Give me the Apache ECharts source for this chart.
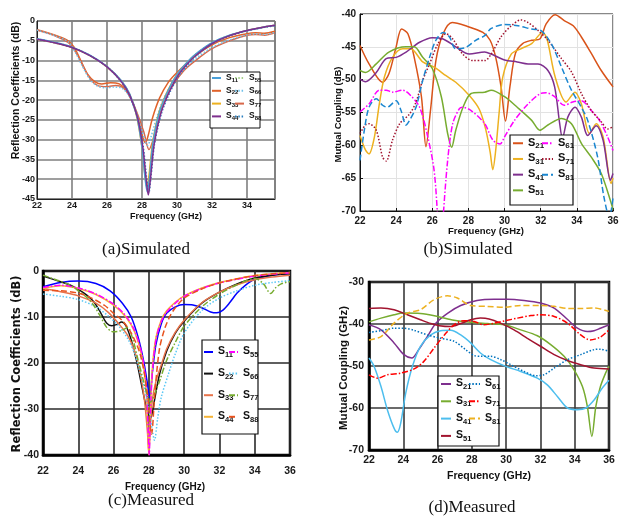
<!DOCTYPE html>
<html><head><meta charset="utf-8">
<script src="https://cdn.jsdelivr.net/npm/echarts@6/dist/echarts.min.js"></script>
<style>html,body{margin:0;padding:0;background:#fff}#c{width:628px;height:521px}</style>
</head><body><div id="c"></div>
<script>
// ---------- (a) Simulated reflection coefficients ----------
const a_S11 = [[22,-4.5],[23,-5.4],[24,-6.6],[25,-8.6],[26,-11.5],[26.8,-15],[27.3,-18.5],[27.7,-24],[28.0,-32],[28.18,-40],[28.3,-43.2],[28.42,-40],[28.62,-31],[29.0,-23],[29.5,-17.5],[30,-13.5],[30.5,-10.8],[31,-8.6],[32,-5.5],[33,-3.6],[34,-2.4],[35,-1.5],[35.6,-1.1]];
const a_S55 = [[22,-4.5],[23,-5.4],[24,-6.6],[25,-8.6],[26,-11.5],[26.8,-15],[27.3,-18.6],[27.72,-24],[28.02,-32],[28.2,-40],[28.32,-43],[28.44,-40],[28.64,-31],[29.02,-23],[29.52,-17.5],[30.02,-13.5],[30.52,-10.8],[31.02,-8.6],[32,-5.5],[33,-3.6],[34,-2.4],[35,-1.5],[35.6,-1.1]];
const a_S33 = [[22,-4.6],[23,-5.5],[24,-6.7],[25,-8.7],[26,-11.6],[26.8,-15.1],[27.3,-18.6],[27.7,-24.2],[28.0,-32],[28.17,-39],[28.28,-42],[28.4,-39],[28.6,-31],[28.98,-23],[29.48,-17.5],[30,-13.6],[30.5,-10.9],[31,-8.7],[32,-5.6],[33,-3.7],[34,-2.4],[35,-1.5],[35.6,-1.1]];
const a_S44 = [[22,-4.6],[23,-5.5],[24,-6.7],[25,-8.7],[26,-11.6],[26.8,-15.2],[27.3,-18.8],[27.75,-24.5],[28.05,-32],[28.24,-40],[28.36,-44],[28.48,-40],[28.7,-31],[29.1,-23],[29.6,-17.5],[30.1,-13.5],[30.6,-10.8],[31.1,-8.6],[32,-5.7],[33,-3.7],[34,-2.4],[35,-1.5],[35.6,-1.1]];
const a_S88 = [[22,-4.6],[23,-5.5],[24,-6.7],[25,-8.7],[26,-11.6],[26.8,-15.3],[27.3,-19],[27.78,-24.8],[28.08,-32],[28.27,-40],[28.39,-43.5],[28.5,-40],[28.72,-31],[29.14,-23],[29.64,-17.6],[30.14,-13.6],[30.64,-10.9],[31.14,-8.7],[32,-5.8],[33,-3.8],[34,-2.5],[35,-1.6],[35.6,-1.2]];
const a_S22 = [[22,-2.2],[23,-3.5],[23.7,-4.8],[24.1,-6.5],[24.5,-10],[24.9,-13.5],[25.3,-15.3],[25.7,-15.9],[26.2,-15.6],[26.7,-15.9],[27.1,-17.5],[27.5,-21],[27.8,-25],[28.05,-29.5],[28.2,-30.8],[28.35,-29],[28.6,-24.5],[29,-19.5],[29.5,-15.5],[30,-13],[31,-9],[32,-6],[33,-4.2],[34,-3.2],[34.5,-3],[35,-3.1],[35.6,-2.6]];
const a_S66 = [[22,-2.3],[23,-3.7],[23.8,-5.3],[24.2,-8],[24.6,-11.5],[25.0,-14.6],[25.4,-16.3],[25.9,-16.9],[26.4,-16.7],[26.8,-16.9],[27.2,-18.5],[27.6,-22.5],[27.95,-27],[28.2,-30.5],[28.32,-31.5],[28.5,-29.5],[28.8,-25],[29.2,-20],[29.7,-16],[30.3,-12.7],[31,-9.8],[32,-6.7],[33,-4.8],[34,-3.5],[34.5,-3.3],[35,-3.4],[35.6,-2.9]];
const a_S77 = [[22,-2.3],[23,-3.7],[23.8,-5.5],[24.3,-8.5],[24.7,-12],[25.1,-15],[25.5,-16.4],[26,-16.6],[26.5,-16.3],[26.9,-16.8],[27.3,-19],[27.7,-23],[28.1,-28],[28.4,-32.5],[28.6,-30.5],[28.9,-25.5],[29.3,-20],[29.8,-16],[30.4,-12.5],[31,-10.2],[32,-7],[33,-5],[34,-3.6],[34.5,-3.4],[35,-3.6],[35.6,-3.0]];

// ---------- (b) Simulated mutual coupling ----------
const b_S21 = [[22,-44.8],[22.5,-47.6],[23.25,-50.4],[23.6,-49.1],[24.0,-45],[24.3,-42.3],[24.65,-43],[25.0,-46.6],[25.4,-52.6],[25.65,-60.2],[25.9,-54.7],[26.2,-47.1],[26.6,-43],[27.1,-41.3],[27.85,-41.8],[28.8,-42.8],[29.2,-44],[29.5,-46.5],[29.8,-51],[30.05,-56.3],[30.3,-51],[30.6,-46],[31.0,-44.5],[31.5,-44],[31.95,-43.8],[32.3,-41.5],[32.8,-40.1],[33.3,-41],[33.8,-41.8],[34.25,-43.5],[34.8,-46],[35.35,-48.6],[36,-51.1]];
const b_S31 = [[22,-58.5],[22.3,-60.7],[22.5,-61.3],[22.8,-58.7],[23.07,-53.7],[23.35,-49.6],[23.8,-46.6],[24.36,-45.3],[24.8,-45.3],[25.47,-47.3],[26.1,-48.1],[26.76,-49.4],[27.3,-50.4],[28.05,-52.4],[28.6,-54.5],[28.95,-57.5],[29.2,-61],[29.35,-63.7],[29.5,-61],[29.7,-55],[29.9,-49.6],[30.37,-46.1],[30.9,-45.3],[31.5,-44.5],[32.1,-42.8],[32.35,-43.8],[32.8,-49.6],[33.4,-53.4],[33.9,-51.9],[34.25,-53.7],[34.7,-58.2],[35.07,-56.7],[35.45,-58.7],[35.9,-65.8],[36,-65]];
const b_S41 = [[22,-49.9],[22.3,-50.3],[22.9,-48.9],[23.45,-46.8],[24.0,-46.6],[24.55,-45.8],[25.3,-44.3],[26.0,-43.6],[26.6,-43.8],[27.3,-45],[28.05,-46.1],[28.9,-45.8],[29.26,-46.1],[30,-47],[30.7,-47.3],[31.3,-47.6],[31.85,-47.6],[32.4,-48.6],[32.77,-51.1],[33.05,-56.7],[33.2,-58.9],[33.5,-55.7],[33.9,-54.2],[34.25,-55.7],[34.6,-58.5],[35.07,-57],[35.45,-59.2],[35.86,-65.3],[36,-64.3]];
const b_S51 = [[22,-48.6],[22.3,-48.9],[22.9,-47.6],[23.6,-45.8],[24.55,-45],[25,-45],[25.47,-46.6],[26,-48.3],[26.5,-52.6],[26.85,-58.2],[27.07,-60.3],[27.3,-57.7],[27.7,-54.2],[28.15,-52.1],[28.9,-51.9],[29.26,-51.6],[30,-52.6],[30.7,-54.2],[31.5,-56.2],[31.95,-57.7],[32.4,-56.9],[33.15,-55.9],[33.7,-56.7],[34.25,-59.7],[34.8,-61.8],[35.35,-64.3],[35.9,-68.8],[36,-69.8]];
const b_S61 = [[22,-54.9],[22.5,-53.7],[23.07,-51.6],[23.45,-51.6],[23.8,-51.9],[24.36,-51.6],[24.8,-52.4],[25.3,-54.2],[25.75,-58.7],[26.1,-63.8],[26.3,-71],[26.45,-78],[26.6,-71],[26.85,-62.3],[27.13,-56.7],[27.5,-54.4],[27.68,-54.2],[28.15,-54.7],[28.9,-56.7],[29.35,-59.2],[29.75,-59.8],[30,-58.7],[30.55,-56.2],[31.3,-53.7],[32.0,-52.1],[32.3,-52],[32.77,-52.6],[33.3,-53.9],[33.77,-53.4],[34.25,-53.2],[34.8,-54.7],[35.25,-56.2],[35.7,-58.7],[36,-60.8]];
const b_S71 = [[22,-58.2],[22.3,-56.9],[22.5,-56.7],[22.9,-57.7],[23.25,-61.8],[23.45,-62.4],[23.8,-59.2],[24.2,-56.7],[24.75,-55.2],[25.1,-53.4],[25.47,-50.1],[25.85,-47.6],[26.3,-44.6],[26.76,-43],[27.13,-43.8],[27.68,-46.1],[28.24,-47.1],[28.9,-47.1],[29.26,-46.1],[29.8,-43.5],[30.37,-41.8],[30.9,-40.9],[31.3,-41.3],[31.85,-42.5],[32.4,-44],[33.15,-46.8],[33.7,-48.8],[34.25,-52.1],[34.8,-54.7],[35.35,-56.4],[35.7,-57.5],[36,-57.2]];
const b_S81 = [[22,-62.3],[22.24,-57.7],[22.5,-54.2],[22.9,-52.9],[23.25,-53.9],[23.5,-54.2],[24.0,-53.2],[24.27,-54.7],[24.55,-56.9],[24.7,-56.4],[25.1,-54.2],[25.47,-50.1],[25.85,-46.6],[26.2,-44],[26.6,-42.8],[26.95,-43.5],[27.3,-45.3],[27.85,-45.1],[28.4,-44],[28.9,-43.3],[29.26,-42.2],[30,-41.6],[30.75,-41.8],[31.5,-42.3],[32,-42.5],[32.6,-44.6],[33.15,-48.1],[33.7,-51.6],[34.25,-54.2],[34.6,-56.2],[35.15,-61.8],[35.5,-67.9],[35.8,-71],[36,-68]];

// ---------- (c) Measured reflection coefficients ----------
const c_S11 = [[22,-3.4],[23,-2.5],[24,-2.2],[25,-2.7],[25.8,-4.3],[26.5,-7],[27,-10],[27.4,-14.5],[27.7,-19.5],[27.9,-24],[28.05,-27.5],[28.2,-22],[28.4,-16],[28.7,-11.5],[29,-9.2],[29.5,-7.8],[30,-7.3],[30.5,-7.4],[31,-8],[31.5,-8.9],[31.85,-9.1],[32.2,-8.5],[32.6,-6.8],[33,-4.8],[33.5,-3],[34,-1.8],[35,-0.9],[36,-0.6]];
const c_S22 = [[22,-1.1],[22.8,-2.1],[23.5,-3],[24,-4],[24.5,-5.3],[24.9,-6.8],[25.3,-9.3],[25.6,-11.3],[25.9,-11.9],[26.2,-11.6],[26.45,-11.1],[26.7,-11.9],[27.0,-15],[27.3,-19.5],[27.6,-25],[27.85,-29.5],[28.1,-32],[28.3,-28.5],[28.6,-22.5],[29,-17.5],[29.5,-13.5],[30,-10.9],[31,-7],[32,-4.6],[33,-2.8],[34,-1.5],[35,-0.9],[36,-0.6]];
const c_S33 = [[22,-3.8],[23,-4.5],[24,-5.4],[25,-7],[25.7,-9],[26.3,-11.5],[26.8,-14],[27.2,-17.5],[27.5,-22],[27.75,-28],[27.92,-35],[28.0,-39.5],[28.08,-34],[28.2,-28],[28.4,-24],[28.7,-20.5],[29,-17],[29.5,-13.3],[30,-10.7],[31,-6.9],[32,-4.6],[33,-3],[34,-1.9],[35,-1.3],[36,-0.9]];
const c_S44 = [[22,-3.8],[23,-3.2],[24,-3.8],[25,-5.1],[26,-7.4],[26.7,-10],[27.2,-13.3],[27.6,-18.5],[27.85,-26],[27.97,-38],[28.0,-40],[28.06,-33],[28.2,-21],[28.4,-14.5],[28.7,-10.7],[29,-8.7],[29.5,-6.8],[30,-5.4],[31,-3.7],[32,-2.5],[33,-1.7],[34,-1.0],[35,-0.6],[36,-0.3]];
const c_S55 = [[22,-3.6],[23,-3.1],[24,-3.7],[25,-5],[26,-7.2],[26.7,-9.8],[27.2,-13],[27.6,-18],[27.85,-25],[27.97,-36],[28.02,-40],[28.08,-32],[28.2,-22],[28.4,-15],[28.7,-11],[29,-9],[29.5,-7],[30,-5.5],[31,-3.8],[32,-2.6],[33,-1.8],[34,-1.1],[35,-0.7],[36,-0.4]];
const c_S66 = [[22,-5],[23,-5.5],[24,-6.2],[25,-7.8],[25.7,-9.8],[26.3,-12],[26.8,-14.7],[27.2,-18],[27.55,-22.7],[27.9,-28],[28.15,-33.5],[28.32,-36.8],[28.5,-32],[28.7,-27.5],[29.1,-22.5],[29.5,-18],[30,-13.5],[31,-8.6],[32,-5.9],[33,-4.3],[34,-3.1],[35,-2.5],[36,-2.1]];
const c_S77 = [[22,-0.9],[22.8,-2],[23.5,-3],[24,-4.3],[24.5,-5.8],[24.9,-7.6],[25.3,-10.2],[25.6,-12.2],[25.95,-13.2],[26.4,-13],[26.8,-12.3],[27.1,-15],[27.4,-19.5],[27.7,-24],[27.95,-27.5],[28.1,-28.5],[28.3,-27],[28.6,-24],[29,-19.5],[29.5,-15.5],[30,-12],[31,-7.8],[32,-5],[33,-3],[34,-1.6],[34.5,-2.8],[34.9,-4.9],[35.2,-3.6],[35.5,-2.8],[36,-2.3]];
const c_S88 = [[22,-4.2],[23,-4.3],[24,-4.8],[24.7,-5.8],[25.5,-7.5],[26,-9.2],[26.5,-10.8],[27,-13.5],[27.5,-18],[27.9,-26],[28.15,-35.5],[28.35,-26],[28.6,-17],[28.9,-12.5],[29.2,-9.8],[29.5,-8],[30,-5.9],[31,-3.9],[32,-2.6],[33,-1.7],[34,-1.0],[35,-0.6],[36,-0.4]];

// ---------- (d) Measured mutual coupling ----------
const d_S21 = [[22,-40.2],[22.7,-41.4],[23.46,-44.5],[24.04,-47.3],[24.5,-48.1],[24.9,-46.1],[25.4,-43],[25.9,-39.8],[26.6,-37.4],[27.35,-35.6],[28.3,-34.4],[29.3,-34.1],[30.07,-34.1],[31.05,-34.4],[32,-35],[32.8,-36.2],[33.6,-39],[34.16,-41],[34.74,-41.8],[35.13,-41.6],[35.5,-41],[36,-40.2]];
const d_S31 = [[22,-39.5],[22.7,-38.6],[23.46,-37.8],[24.04,-37.4],[25,-37.5],[26,-38.2],[26.96,-39.1],[27.93,-39.6],[28.9,-39.9],[29.9,-40.2],[30.85,-41.4],[31.82,-42.8],[32.6,-44.9],[33.38,-47.7],[33.96,-50.9],[34.45,-54.9],[34.74,-59.7],[35.0,-66.8],[35.23,-59.7],[35.5,-54.9],[35.8,-51.7],[36,-50.1]];
const d_S41 = [[22,-48.1],[22.3,-50.1],[22.7,-54.9],[23.07,-60.4],[23.46,-64.8],[23.65,-65.8],[23.85,-63.6],[24.14,-56.5],[24.53,-50.1],[25,-45.3],[25.6,-42.6],[26.18,-41.6],[26.77,-41.5],[27.35,-42.6],[27.93,-44.5],[28.5,-46.9],[29.1,-48.5],[29.98,-50.1],[30.85,-51.3],[31.82,-52.9],[32.4,-54.5],[33,-57.3],[33.58,-60],[34.16,-60.4],[34.65,-60],[35.13,-58.1],[35.6,-55.3],[36,-53.4]];
const d_S51 = [[22,-36.3],[22.7,-36.2],[23.46,-36.6],[24.24,-37.8],[25,-39],[25.6,-39.9],[26.1,-40.4],[26.77,-40.6],[27.35,-39.9],[27.93,-39],[28.5,-38.6],[29,-38.8],[29.67,-39.8],[30.46,-41.4],[31.24,-43.4],[32,-45.3],[32.8,-47.3],[33.58,-48.7],[34.35,-49.7],[35.13,-50.5],[36,-50.7]];
const d_S61 = [[22,-42],[22.7,-41.6],[23.46,-41],[24,-41],[24.63,-41.5],[25.4,-42.6],[26.18,-43.4],[26.96,-44.1],[27.64,-46.1],[28.13,-47.5],[28.52,-47.7],[29.1,-47.7],[29.7,-48.5],[30.27,-49.7],[31.05,-51.3],[31.73,-52.3],[32.2,-52.1],[32.8,-50.5],[33.58,-48.5],[34.35,-47.3],[35.13,-46.1],[35.5,-46],[36,-46.5]];
const d_S71 = [[22,-52.1],[22.5,-52.9],[23.07,-52.1],[23.85,-51.7],[24.63,-50.7],[25.2,-48.9],[25.8,-45.7],[26.4,-42.6],[26.96,-40.2],[27.54,-39.2],[28.13,-39.4],[28.7,-40.2],[29.3,-39.8],[29.98,-39.2],[30.66,-38.6],[31.44,-38],[32,-37.8],[32.8,-38.2],[33.58,-39.8],[34.35,-42.6],[34.9,-43.8],[35.5,-43.1],[36,-41.4]];
const d_S81 = [[22,-43.8],[22.7,-43],[23.46,-39.8],[24.24,-37.4],[25,-36.6],[25.8,-34.2],[26.57,-33.3],[27.15,-33.8],[27.93,-35.6],[28.9,-35.8],[29.9,-36],[30.85,-35.6],[32,-35.6],[32.8,-35.8],[33.58,-36.3],[34.35,-36.3],[35.13,-36.2],[36,-37]];

// axis ranges / ticks
const xRangeA = [22, 35.6, 2], yRangeA = [-45, 0, 5];
const xRangeB = [22, 36, 2], yRangeB = [-70, -40, 5];
const xRangeC = [22, 36, 2], yRangeC = [-40, 0, 10];
const xRangeD = [22, 36, 2], yRangeD = [-70, -30, 10];

const DOT = [1.5, 1.8], DASH = [6, 3], DASHDOT = [6, 2, 1.5, 2];

function ln(id, data, color, dash, g, w) {
  return { name: id, type: 'line', xAxisIndex: g, yAxisIndex: g, data: data,
    symbol: 'none', smooth: 0.3, animation: false, emphasis: { disabled: true },
    lineStyle: { color: color, width: w || 1.5, type: dash || 'solid' }, itemStyle: { color: color } };
}

const series = [
  ln('a:S22', a_S22, '#e0622a', null, 0),
  ln('a:S77', a_S77, '#d8684a', null, 0),
  ln('a:S66', a_S66, '#6fc1ea', DOT, 0),
  ln('a:S55', a_S55, '#a8d08d', DOT, 0),
  ln('a:S33', a_S33, '#EDB120', null, 0),
  ln('a:S11', a_S11, '#4a9fd8', null, 0),
  ln('a:S88', a_S88, '#2a7fc0', DOT, 0),
  ln('a:S44', a_S44, '#7E2F8E', null, 0),

  ln('b:S21', b_S21, '#D95319', null, 1),
  ln('b:S31', b_S31, '#EDB120', null, 1),
  ln('b:S41', b_S41, '#7E2F8E', null, 1),
  ln('b:S51', b_S51, '#77AC30', null, 1),
  ln('b:S61', b_S61, '#FF00FF', DASHDOT, 1),
  ln('b:S71', b_S71, '#A2142F', DOT, 1),
  ln('b:S81', b_S81, '#1a86d0', DASH, 1),

  ln('c:S11', c_S11, '#0000FF', null, 2),
  ln('c:S22', c_S22, '#111111', null, 2),
  ln('c:S33', c_S33, '#E8734A', null, 2),
  ln('c:S44', c_S44, '#F5B335', null, 2),
  ln('c:S55', c_S55, '#FF00FF', DASHDOT, 2),
  ln('c:S66', c_S66, '#5BC8F5', DOT, 2),
  ln('c:S77', c_S77, '#77AC30', DASHDOT, 2),
  ln('c:S88', c_S88, '#E8521E', DASH, 2),

  ln('d:S21', d_S21, '#7E2F8E', null, 3),
  ln('d:S31', d_S31, '#77AC30', null, 3),
  ln('d:S41', d_S41, '#4DBEEE', null, 3),
  ln('d:S51', d_S51, '#A2142F', null, 3),
  ln('d:S61', d_S61, '#0072BD', DOT, 3),
  ln('d:S71', d_S71, '#FF0000', DASHDOT, 3),
  ln('d:S81', d_S81, '#EDB120', DASH, 3)
];

const FONT = '"Liberation Sans", Arial, sans-serif';
const grids = [
  { left: 37, top: 21, width: 238, height: 178, show: true, borderColor: '#222', borderWidth: 1 },
  { left: 360, top: 14, width: 253, height: 197, show: true, borderColor: '#111', borderWidth: 1 },
  { left: 43, top: 271, width: 247, height: 184, show: true, borderColor: '#000', borderWidth: 2.5 },
  { left: 369, top: 282, width: 240, height: 168, show: true, borderColor: '#000', borderWidth: 2.5 }
];
const gstyle = [
  { split: '#7f7f7f', sw: 1.6, axis: '#222', aw: 1, fs: 9, tick: false, mx: 2, my: 2 },
  { split: '#e2e2e2', sw: 1, axis: '#111', aw: 1, fs: 10, tick: true, mx: 5, my: 4 },
  { split: '#2a2a2a', sw: 1.6, axis: '#000', aw: 2.5, fs: 10.5, tick: false, mx: 11, my: 4 },
  { split: '#3a3a3a', sw: 1.6, axis: '#000', aw: 2.5, fs: 10.5, tick: false, mx: 5, my: 5 }
];
const xr = [xRangeA, xRangeB, xRangeC, xRangeD], yr = [yRangeA, yRangeB, yRangeC, yRangeD];
function axis(i, r, isX) {
  const s = gstyle[i];
  return { type: 'value', gridIndex: i, min: r[0], max: r[1], interval: r[2],
    axisLine: { show: true, onZero: false, lineStyle: { color: s.axis, width: s.aw } },
    axisTick: { show: s.tick, inside: true, length: 3, lineStyle: { color: '#111' } },
    splitLine: { show: true, lineStyle: { color: s.split, width: s.sw } },
    axisLabel: { fontFamily: FONT, fontWeight: 'bold', fontSize: s.fs, color: '#1a1a1a',
      margin: isX ? s.mx : s.my, showMaxLabel: true,
      formatter: v => (Math.abs(v % r[2]) < 1e-6 ? String(v) : '') } };
}
const xAxis = [0,1,2,3].map(i => axis(i, xr[i], true));
const yAxis = [0,1,2,3].map(i => axis(i, yr[i], false));

function richFor(sf, nf, pad) {
  return { s: { fontFamily: FONT, fontWeight: 'bold', fontSize: sf, lineHeight: sf + 1.5, verticalAlign: 'top', color: '#111' },
           n: { fontFamily: FONT, fontWeight: 'bold', fontSize: nf, lineHeight: nf + 1, verticalAlign: 'top', padding: [pad, 0, 0, 0], color: '#111' } };
}
function leg(names, left, top, iw, gap, sf, nf, pad) {
  return { show: true, orient: 'vertical', left: left, top: top, padding: 0, itemGap: gap,
    itemWidth: iw, itemHeight: 2, selectedMode: false, z: 6, data: names,
    itemStyle: { opacity: 0 },
    formatter: nm => '{s|S}{n|' + nm.split(':')[1].slice(1) + '}',
    textStyle: { rich: richFor(sf, nf, pad) } };
}
const legend = [
  leg(['a:S11','a:S22','a:S33','a:S44'], 211, 73, 9, 2.8, 8.5, 6, 4),
  leg(['a:S55','a:S66','a:S77','a:S88'], 234, 73, 9, 2.8, 8.5, 6, 4),
  leg(['b:S21','b:S31','b:S41','b:S51'], 512, 137, 10, 2.7, 11, 8, 5),
  leg(['b:S61','b:S71','b:S81'], 541, 137, 11, 2.7, 11, 8, 5),
  leg(['c:S11','c:S22','c:S33','c:S44'], 203, 346, 9, 8.6, 10.5, 7.5, 5),
  leg(['c:S55','c:S66','c:S77','c:S88'], 228, 346, 9, 8.6, 10.5, 7.5, 5),
  leg(['d:S21','d:S31','d:S41','d:S51'], 440, 378, 10, 4.3, 10.5, 7.5, 5),
  leg(['d:S61','d:S71','d:S81'], 468, 378, 11, 4.3, 10.5, 7.5, 5)
];

function box(x, y, w, h, lw) {
  return { type: 'rect', z: 5, shape: { x: x, y: y, width: w, height: h },
    style: { fill: '#fff', stroke: '#111', lineWidth: lw } };
}
function txt(t, x, y, font, rot) {
  return { type: 'text', z: 5, x: x, y: y, rotation: rot ? Math.PI / 2 : 0,
    style: { text: t, font: font, fill: '#111', align: 'center', verticalAlign: 'middle' } };
}
const graphic = [
  box(210, 72, 50, 56, 1),
  box(510, 135, 63, 70, 1.2),
  box(202, 340, 56, 94, 1.2),
  box(438, 376, 61, 70, 1.2),
  txt('Reflection Coefficients (dB)', 16, 90.5, 'bold 10.5px ' + FONT, true),
  txt('Frequency (GHz)', 166, 217, 'bold 9px ' + FONT),
  txt('Mutual Coupling (dB)', 338, 114.5, 'bold 9.5px ' + FONT, true),
  txt('Frequency (GHz)', 486, 231, 'bold 9.5px ' + FONT),
  txt('Reflection Coefficients (dB)', 17, 364, 'bold 11.5px "DejaVu Sans"', true),
  txt('Frequency (GHz)', 165, 487, 'bold 10px ' + FONT),
  txt('Mutual Coupling (GHz)', 344, 368, 'bold 11.5px ' + FONT, true),
  txt('Frequency (GHz)', 489, 476, 'bold 10.5px ' + FONT),
  txt('(a)Simulated', 146, 250, '17px "Liberation Serif", serif'),
  txt('(b)Simulated', 468, 250, '17px "Liberation Serif", serif'),
  txt('(c)Measured', 151, 501, '17px "Liberation Serif", serif'),
  txt('(d)Measured', 472, 508, '17px "Liberation Serif", serif')
];

const chart = echarts.init(document.getElementById('c'), null, { renderer: 'canvas' });
chart.setOption({ animation: false, backgroundColor: '#fff', grid: grids, xAxis: xAxis, yAxis: yAxis,
  legend: legend, graphic: graphic, series: series });
</script></body></html>
